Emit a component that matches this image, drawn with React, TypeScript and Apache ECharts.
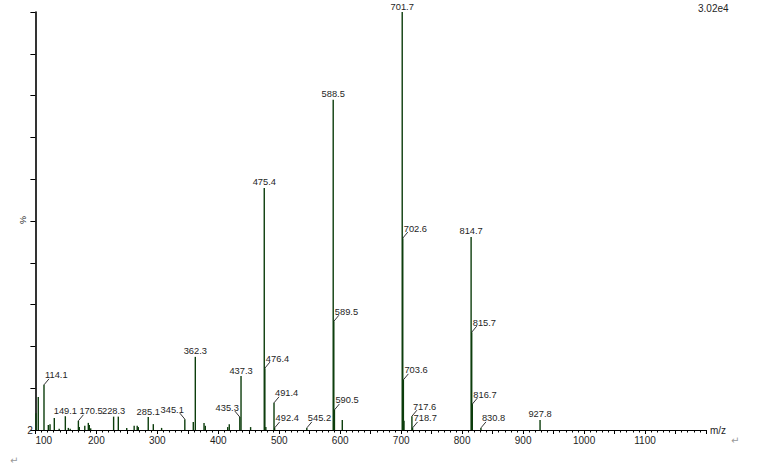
import React, { useEffect, useRef } from "react";
import * as echarts from "echarts";

// Labelled peaks (m/z, relative intensity %)
const labeledMz = [114.1, 149.1, 170.5, 228.3, 285.1, 345.1, 362.3, 435.3, 437.3, 475.4, 476.4, 491.4, 492.4, 545.2, 588.5, 589.5, 590.5, 701.7, 702.6, 703.6, 717.6, 718.7, 814.7, 815.7, 816.7, 830.8, 927.8];
const labeledPct = [10.8, 3.3, 2.2, 3.2, 3.1, 2.6, 17.5, 3.1, 12.9, 57.9, 14.8, 6.5, 0.5, 0.5, 79.0, 26.0, 4.8, 100, 45.9, 12.0, 3.3, 0.5, 46.2, 23.4, 6.2, 0.5, 2.4];
// label placement: c = centred above, r = leader to the right, l = leader to the left
const labelMode = ["r", "c", "r", "c", "c", "l", "c", "l", "c", "c", "r", "r", "r", "r", "c", "r", "r", "c", "r", "r", "r", "r", "c", "r", "r", "r", "c"];

// Unlabelled minor peaks
const minorMz = [100.9, 104.7, 121.2, 124.0, 131.0, 139.0, 154.0, 157.0, 172.0, 181.0, 186.8, 188.4, 190.7, 236.0, 249.8, 262.0, 267.0, 268.8, 293.4, 307.0, 359.0, 376.6, 378.7, 415.4, 418.0, 453.0, 478.0, 603.4, 704.6];
const minorPct = [4.0, 7.9, 1.2, 1.4, 2.9, 0.3, 0.5, 0.3, 0.7, 1.0, 1.7, 1.2, 0.4, 3.2, 0.5, 1.0, 1.0, 0.7, 1.4, 0.5, 1.9, 1.7, 1.0, 0.7, 1.4, 0.7, 0.7, 2.4, 2.2];

const baseIntensity = "3.02e4";
const yMinLabel = "2";
const xAxisName = "m/z";

const PEAK = "#0c3d0c";
const TEXT = "#1e1e1e";
const FONT = "'Liberation Sans', Arial, sans-serif";
const LABEL_SIZE = 9.3;

export default function App() {
  const ref = useRef<HTMLDivElement>(null);
  useEffect(() => {
    if (!ref.current) return;
    const chart = echarts.init(ref.current, null, { renderer: "svg" });
    const sticks = [
      ...labeledMz.map((m, i) => [m, labeledPct[i]]),
      ...minorMz.map((m, i) => [m, minorPct[i]]),
    ];
    const modeNum = (s: string) => (s === "r" ? 1 : s === "l" ? -1 : 0);
    const labels = labeledMz.map((m, i) => [m, labeledPct[i], modeNum(labelMode[i])]);

    chart.setOption({
      animation: false,
      backgroundColor: "#ffffff",
      grid: { left: 35.4, right: 62, top: 12, bottom: 36 },
      xAxis: {
        type: "value",
        min: 100,
        max: 1200,
        interval: 50,
        name: xAxisName,
        nameLocation: "end",
        nameGap: 4,
        nameTextStyle: { color: TEXT, fontSize: 10, fontFamily: FONT, padding: [4, 0, 0, 0] },
        axisLine: { show: true, lineStyle: { color: "#000", width: 1 } },
        axisTick: { show: true, length: 4, lineStyle: { color: "#000" } },
        minorTick: { show: true, splitNumber: 5, length: 2.5, lineStyle: { color: "#000" } },
        splitLine: { show: false },
        axisLabel: {
          color: TEXT,
          fontSize: 10,
          fontFamily: FONT,
          margin: 5,
          alignMinLabel: "left",
          showMaxLabel: false,
          formatter: (v: number) => (v % 100 === 0 && v < 1200 ? String(v) : ""),
        },
      },
      yAxis: {
        type: "value",
        min: 0,
        max: 100,
        interval: 10,
        axisLine: { show: true, lineStyle: { color: "#000", width: 1.6 } },
        axisTick: { show: true, length: 5, lineStyle: { color: "#000" } },
        axisLabel: { show: false },
        splitLine: { show: false },
      },
      series: [
        {
          type: "custom",
          data: sticks,
          encode: { x: 0, y: 1 },
          renderItem: (params: any, api: any) => {
            const top = api.coord([api.value(0), api.value(1)]);
            const base = api.coord([api.value(0), 0]);
            return {
              type: "line",
              shape: { x1: top[0], y1: base[1], x2: top[0], y2: top[1] },
              style: { stroke: PEAK, lineWidth: 1.4 },
            };
          },
        },
        {
          type: "custom",
          data: labels,
          encode: { x: 0, y: 1 },
          z: 3,
          renderItem: (params: any, api: any) => {
            const mz = api.value(0);
            const mode = api.value(2);
            const p = api.coord([mz, api.value(1)]);
            const text = mz.toFixed(1);
            const children: any[] = [];
            if (mode === 0) {
              children.push({
                type: "text",
                x: p[0],
                y: p[1] - 1,
                style: {
                  text,
                  fill: TEXT,
                  fontSize: LABEL_SIZE,
                  fontFamily: FONT,
                  align: "center",
                  textAlign: "center",
                  verticalAlign: "bottom",
                  textVerticalAlign: "bottom",
                },
              });
            } else {
              const dx = mode * 5;
              children.push({
                type: "line",
                shape: { x1: p[0], y1: p[1], x2: p[0] + dx, y2: p[1] - 6 },
                style: { stroke: "#000", lineWidth: 0.8 },
              });
              children.push({
                type: "text",
                x: p[0] + mode * 1,
                y: p[1] - 5,
                style: {
                  text,
                  fill: TEXT,
                  fontSize: LABEL_SIZE,
                  fontFamily: FONT,
                  align: mode > 0 ? "left" : "right",
                  textAlign: mode > 0 ? "left" : "right",
                  verticalAlign: "bottom",
                  textVerticalAlign: "bottom",
                },
              });
            }
            return { type: "group", children };
          },
        },
      ],
      graphic: [
        {
          type: "text",
          left: 698,
          top: 3,
          style: { text: baseIntensity, fill: TEXT, fontSize: 10, fontFamily: FONT },
        },
        {
          type: "text",
          x: 30,
          y: 430,
          style: {
            text: yMinLabel,
            fill: TEXT,
            fontSize: 10,
            fontFamily: FONT,
            align: "center",
            textAlign: "center",
            verticalAlign: "middle",
            textVerticalAlign: "middle",
          },
        },
        {
          type: "text",
          x: 23,
          y: 220,
          rotation: -Math.PI / 2,
          style: {
            text: "%",
            fill: TEXT,
            fontSize: 9,
            fontFamily: FONT,
            align: "center",
            textAlign: "center",
            verticalAlign: "middle",
            textVerticalAlign: "middle",
          },
        },
        {
          type: "text",
          x: 10,
          y: 455,
          style: { text: "↵", fill: "#999", fontSize: 10, fontFamily: "DejaVu Sans" },
        },
        {
          type: "text",
          x: 731,
          y: 435,
          style: { text: "↵", fill: "#999", fontSize: 10, fontFamily: "DejaVu Sans" },
        },
      ],
    });
    return () => chart.dispose();
  }, []);
  return (
    <div
      ref={ref}
      style={{ position: "fixed", left: 0, top: 0, width: 768, height: 466, background: "#fff" }}
    />
  );
}
